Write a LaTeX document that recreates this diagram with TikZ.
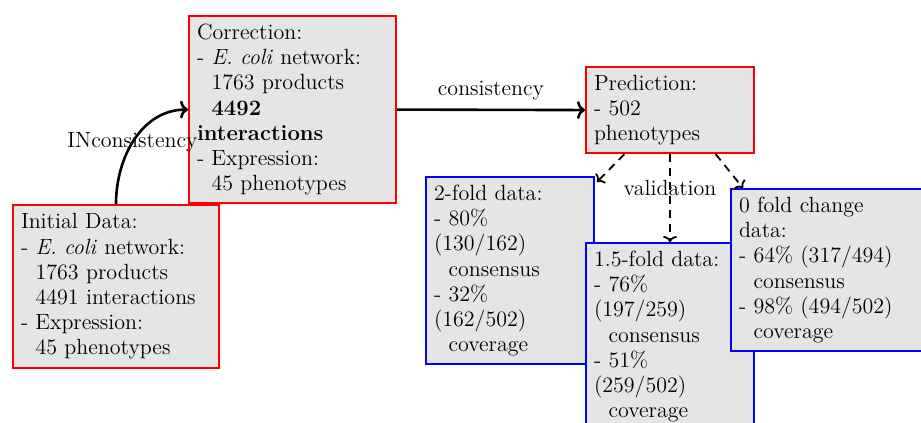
\documentclass[tikz,border=0pt]{standalone}
\usetikzlibrary{calc,arrows.meta}
\newcommand\myind{\hspace*{7.3pt}}
\begin{document}
\begin{tikzpicture}[x=0.5pt,y=0.5pt,
  box/.style={draw, line width=1pt, fill=gray!20, anchor=north west, align=left,
    inner xsep=4pt, inner ysep=4pt, font=\fontsize{11}{12.6}\selectfont},
  redbox/.style={box, draw=red},
  bluebox/.style={box, draw=blue},
  lbl/.style={font=\fontsize{11}{12.6}\selectfont},
  flow/.style={line width=1.3pt, -{To[length=4pt,width=9pt]}},
  check/.style={dashed, dash pattern=on 4pt off 3pt, line width=0.9pt, -{To[length=3pt,width=7pt]}}]
\clip (0,0) rectangle (921,-423);
\node[redbox, text width=95pt, minimum height=81.5pt] (init) at (12,-204)
 {Initial Data:\\- \emph{E. coli} network:\\\myind 1763 products\\\myind 4491 interactions\\- Expression:\\\myind 45 phenotypes};
\node[redbox, text width=95.5pt, minimum height=93.5pt] (corr) at (188,-15)
 {Correction:\\- \emph{E. coli} network:\\\myind 1763 products\\\myind\textbf{4492}\\\textbf{interactions}\\- Expression:\\\myind 45 phenotypes};
\node[redbox, text width=76pt, minimum height=43pt] (pred) at (585,-66)
 {Prediction:\\- 502\\phenotypes};
\node[bluebox, text width=76pt, minimum height=93.5pt] (two) at (425,-176)
 {2-fold data:\\- 80\%\\(130/162)\\\myind consensus\\- 32\%\\(162/502)\\\myind coverage};
\node[bluebox, text width=76pt, minimum height=93.5pt] (onefive) at (585,-242)
 {1.5-fold data:\\- 76\%\\(197/259)\\\myind consensus\\- 51\%\\(259/502)\\\myind coverage};
\node[bluebox, text width=92pt, minimum height=81pt] (zero) at (730,-188)
 {0 fold change\\data:\\- 64\% (317/494)\\\myind consensus\\- 98\% (494/502)\\\myind coverage};
\draw[flow] (init.north) to[out=90,in=180] node[lbl, pos=0.47] {INconsistency} (corr.west);
\draw[flow] (corr.east) -- node[lbl, above=1pt] {consistency} (pred.west);
\draw[check] (pred.224) -- ($(two.north east)+(1pt,-3pt)$);
\draw[check] (pred.south) -- node[lbl, pos=0.38] {validation} (onefive.north);
\draw[check] (pred.-44) -- ($(zero.north west)+(6.5pt,0)$);
\end{tikzpicture}
\end{document}
